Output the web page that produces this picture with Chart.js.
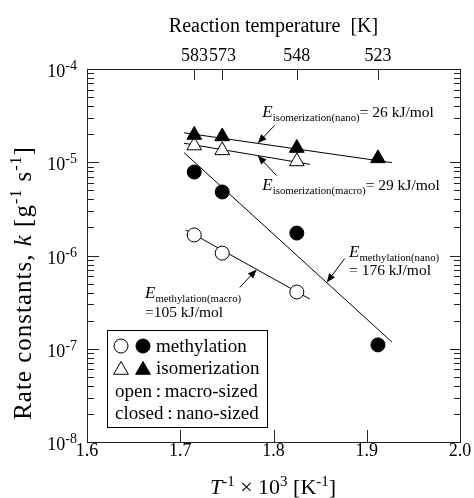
<!DOCTYPE html>
<html>
<head>
<meta charset="utf-8">
<script src="https://cdn.jsdelivr.net/npm/chart.js@4.4.0/dist/chart.umd.min.js"></script>
<style>
    html, body { margin: 0; padding: 0; background: #fff; }
</style>
</head>
<body>
<canvas id="arrhenius" width="474" height="498"></canvas>
<script>
// reaction temperatures [K] and their 1000/T values
const tempsK = [583, 573, 548, 523]
const invT = [1.715, 1.745, 1.825, 1.912]

// rate constants k [g-1 s-1]
const isoNano = [1.96e-5, 1.89e-5, 1.42e-5, 1.10e-5]
const isoMacro = [1.51e-5, 1.34e-5, 1.02e-5]
const methNano = [7.86e-6, 4.80e-6, 1.74e-6, 1.10e-7]
const methMacro = [1.66e-6, 1.06e-6, 4.06e-7]

// fitted lines, [x, k] at both ends
const isoNanoFit = [[1.704, 2.07e-5], [1.927, 9.9e-6]]
const isoMacroFit = [[1.704, 1.60e-5], [1.839, 9.5e-6]]
const methNanoFit = [[1.704, 1.27e-5], [1.927, 1.18e-7]]
const methMacroFit = [[1.706, 1.88e-6], [1.839, 3.41e-7]]

const xTicks = [1.6, 1.7, 1.8, 1.9, 2.0]
const yDecades = [-8, -7, -6, -5, -4]

const SERIF = "'Liberation Serif', 'Times New Roman', serif"

function pts(xs, ys) {
    return ys.map((y, i) => ({ x: xs[i], y: y }))
}
function fit(arr) {
    return arr.map(p => ({ x: p[0], y: p[1] }))
}

function markerSet(data, style, filled, r) {
    return {
        data: data,
        showLine: false,
        pointStyle: style,
        pointRadius: r,
        pointHoverRadius: r,
        pointBackgroundColor: filled ? "#000" : "#fff",
        pointBorderColor: "#000",
        pointBorderWidth: 1,
        order: 0
    }
}
function lineSet(data) {
    return {
        data: data,
        showLine: true,
        borderColor: "#000",
        borderWidth: 1,
        pointRadius: 0,
        fill: false,
        order: 1
    }
}

// text made of pieces: [text, size, style, dy]
function rich(ctx, parts, x, y, align) {
    let w = 0
    parts.forEach(p => {
        ctx.font = (p[2] || "") + " " + p[1] + "px " + SERIF
        w += ctx.measureText(p[0]).width
    })
    let cx = align == "center" ? x - w / 2 : (align == "right" ? x - w : x)
    ctx.textAlign = "left"
    ctx.textBaseline = "alphabetic"
    parts.forEach(p => {
        ctx.font = (p[2] || "") + " " + p[1] + "px " + SERIF
        ctx.fillText(p[0], cx, y + (p[3] || 0))
        cx += ctx.measureText(p[0]).width
    })
    return w
}

function marker(ctx, style, filled, x, y, r) {
    ctx.beginPath()
    if (style == "circle") {
        ctx.arc(x, y, r, 0, Math.PI * 2)
    } else {
        let a = 0
        ctx.moveTo(x + Math.sin(a) * r, y - Math.cos(a) * r)
        a += Math.PI * 2 / 3
        ctx.lineTo(x + Math.sin(a) * r, y - Math.cos(a) * r)
        a += Math.PI * 2 / 3
        ctx.lineTo(x + Math.sin(a) * r, y - Math.cos(a) * r)
        ctx.closePath()
    }
    ctx.fillStyle = filled ? "#000" : "#fff"
    ctx.fill()
    ctx.lineWidth = 1
    ctx.strokeStyle = "#000"
    ctx.stroke()
}

function arrow(ctx, x1, y1, x2, y2) {
    const ang = Math.atan2(y2 - y1, x2 - x1)
    const hl = 9, hw = 3.6
    ctx.beginPath()
    ctx.moveTo(x1, y1)
    ctx.lineTo(x2 - Math.cos(ang) * hl * 0.8, y2 - Math.sin(ang) * hl * 0.8)
    ctx.lineWidth = 1
    ctx.strokeStyle = "#000"
    ctx.stroke()
    ctx.beginPath()
    ctx.moveTo(x2, y2)
    ctx.lineTo(x2 - Math.cos(ang) * hl - Math.sin(ang) * hw, y2 - Math.sin(ang) * hl + Math.cos(ang) * hw)
    ctx.lineTo(x2 - Math.cos(ang) * hl + Math.sin(ang) * hw, y2 - Math.sin(ang) * hl - Math.cos(ang) * hw)
    ctx.closePath()
    ctx.fillStyle = "#000"
    ctx.fill()
}

// point on a fitted line at x (pixel space, log axis is linear there)
function onLine(chart, f, xv) {
    const sx = chart.scales.x, sy = chart.scales.y
    const x1 = sx.getPixelForValue(f[0][0]), y1 = sy.getPixelForValue(f[0][1])
    const x2 = sx.getPixelForValue(f[1][0]), y2 = sy.getPixelForValue(f[1][1])
    const px = sx.getPixelForValue(xv)
    return [px, y1 + (y2 - y1) * (px - x1) / (x2 - x1)]
}

const framePlugin = {
    id: "frame",
    beforeDatasetsDraw(chart) {
        const ctx = chart.ctx, a = chart.chartArea
        const sx = chart.scales.x, sy = chart.scales.y
        ctx.save()
        ctx.strokeStyle = "#222"
        ctx.lineWidth = 1
        ctx.strokeRect(a.left + 0.5, a.top + 0.5, a.right - a.left, a.bottom - a.top)
        ctx.beginPath()
        yDecades.forEach(d => {
            for (let m = 1; m <= 9; m++) {
                const v = m * Math.pow(10, d)
                if (d == -4 && m > 1) break
                const py = Math.round(sy.getPixelForValue(v)) + 0.5
                ctx.moveTo(a.left, py)
                ctx.lineTo(a.left + (m == 1 ? 12 : 7), py)
                ctx.moveTo(a.right, py)
                ctx.lineTo(a.right - (m == 1 ? 10 : 6), py)
            }
        })
        xTicks.slice(1, -1).forEach(v => {
            const px = Math.round(sx.getPixelForValue(v)) + 0.5
            ctx.moveTo(px, a.bottom)
            ctx.lineTo(px, a.bottom - 12)
        })
        tempsK.forEach(t => {
            const px = Math.round(sx.getPixelForValue(1000 / t)) + 0.5
            ctx.moveTo(px, a.top)
            ctx.lineTo(px, a.top + 11)
        })
        ctx.stroke()
        ctx.restore()
    },
    afterDraw(chart) {
        const ctx = chart.ctx, a = chart.chartArea
        const sx = chart.scales.x, sy = chart.scales.y
        ctx.save()
        ctx.fillStyle = "#000"

        // y tick labels 10^n
        yDecades.forEach(d => {
            const py = sy.getPixelForValue(Math.pow(10, d))
            ctx.font = "14px " + SERIF
            const sw = ctx.measureText(String(d)).width
            ctx.fillStyle = "#000"
            ctx.font = "18px " + SERIF
            ctx.textAlign = "right"
            ctx.textBaseline = "alphabetic"
            ctx.fillText("10", 77 - sw, py + 8)
            ctx.font = "14px " + SERIF
            ctx.textAlign = "left"
            ctx.fillText(String(d), 77 - sw, py + 1)
        })

        // axis titles
        ctx.fillStyle = "#000"
        rich(ctx, [["Reaction temperature  [K]", 20]], (a.left + a.right) / 2, 32, "center")
        rich(ctx, [["T", 22, "italic"], ["-1", 15, "", -8], [" \u00d7 10", 22], ["3", 15, "", -8],
                   [" [K", 22], ["-1", 15, "", -8], ["]", 22]], 273, 494, "center")
        ctx.save()
        ctx.translate(23, 283)
        ctx.rotate(-Math.PI / 2)
        ctx.letterSpacing = "1px"
        rich(ctx, [["Rate constants, ", 25], ["k", 25, "italic"], [" [g", 25], ["-1", 16, "", -10],
                   [" s", 25], ["-1", 16, "", -10], ["]", 25]], 0, 8, "center")
        ctx.letterSpacing = "0px"
        ctx.restore()

        // activation energy notes
        const E = (sub) => [["E", 17, "italic"], [sub, 10.8, "", 4]]
        let p = [sx.getPixelForValue(1.788), sy.getPixelForValue(3.06e-5)]
        rich(ctx, E("isomerization(nano)").concat([["= 26 kJ/mol", 15.5]]), p[0], p[1])
        p = [sx.getPixelForValue(1.788), sy.getPixelForValue(5.04e-6)]
        rich(ctx, E("isomerization(macro)").concat([["= 29 kJ/mol", 15.5]]), p[0], p[1])
        p = [sx.getPixelForValue(1.881), sy.getPixelForValue(9.63e-7)]
        rich(ctx, E("methylation(nano)"), p[0], p[1])
        rich(ctx, [["= 176 kJ/mol", 15.5]], p[0], sy.getPixelForValue(6.18e-7))
        p = [sx.getPixelForValue(1.6622), sy.getPixelForValue(3.5e-7)]
        rich(ctx, E("methylation(macro)"), p[0], p[1])
        rich(ctx, [["=105 kJ/mol", 15.5]], p[0], sy.getPixelForValue(2.19e-7))

        let h = onLine(chart, isoNanoFit, 1.783)
        arrow(ctx, h[0] + 17, h[1] - 18, h[0], h[1])
        h = onLine(chart, isoMacroFit, 1.783)
        arrow(ctx, h[0] + 19, h[1] + 20, h[0], h[1])
        h = onLine(chart, methNanoFit, 1.857)
        arrow(ctx, h[0] + 18, h[1] - 24, h[0], h[1])
        h = onLine(chart, methMacroFit, 1.782)
        arrow(ctx, h[0] - 17, h[1] + 18, h[0], h[1])

        // legend box
        const bx = a.left + 20, by = a.bottom - 112, bw = 160, bh = 97
        ctx.fillStyle = "#fff"
        ctx.fillRect(bx, by, bw, bh)
        ctx.strokeStyle = "#000"
        ctx.lineWidth = 1
        ctx.strokeRect(bx + 0.5, by + 0.5, bw, bh)
        marker(ctx, "circle", false, bx + 14, by + 16, 7)
        marker(ctx, "circle", true, bx + 36, by + 16, 7)
        marker(ctx, "triangle", false, bx + 14, by + 40, 8.5)
        marker(ctx, "triangle", true, bx + 36, by + 40, 8.5)
        ctx.fillStyle = "#000"
        rich(ctx, [["methylation", 19]], bx + 49, by + 22)
        rich(ctx, [["isomerization", 19]], bx + 49, by + 44)
        rich(ctx, [["open\u2009:\u2009macro-sized", 19]], bx + 8, by + 67)
        rich(ctx, [["closed\u2009:\u2009nano-sized", 19]], bx + 8, by + 89)
        ctx.restore()
    }
}

new Chart(document.getElementById("arrhenius"), {
    type: "scatter",
    data: {
        datasets: [
            markerSet(pts(invT, isoNano), "triangle", true, 8.5),
            markerSet(pts(invT, isoMacro), "triangle", false, 8.5),
            markerSet(pts(invT, methNano), "circle", true, 7),
            markerSet(pts(invT, methMacro), "circle", false, 7),
            lineSet(fit(isoNanoFit)),
            lineSet(fit(isoMacroFit)),
            lineSet(fit(methNanoFit)),
            lineSet(fit(methMacroFit))
        ]
    },
    options: {
        responsive: false,
        animation: false,
        devicePixelRatio: 1,
        layout: { padding: { left: 0, right: 14, top: 0, bottom: 0 } },
        plugins: { legend: { display: false }, tooltip: { enabled: false } },
        scales: {
            x: {
                type: "linear",
                position: "bottom",
                min: 1.6,
                max: 2.0,
                afterBuildTicks: (s) => { s.ticks = xTicks.map(v => ({ value: v })) },
                afterFit: (s) => { s.height = 56 },
                grid: { display: false, drawTicks: false },
                border: { display: false },
                ticks: {
                    autoSkip: false,
                    maxRotation: 0,
                    padding: -2,
                    color: "#000",
                    font: { family: SERIF, size: 18 },
                    callback: (v) => Number(v).toFixed(1)
                }
            },
            x2: {
                type: "linear",
                position: "top",
                min: 1.6,
                max: 2.0,
                afterBuildTicks: (s) => { s.ticks = tempsK.map(t => ({ value: 1000 / t })) },
                afterFit: (s) => { s.height = 69 },
                grid: { display: false, drawTicks: false },
                border: { display: false },
                ticks: {
                    autoSkip: false,
                    maxRotation: 0,
                    padding: 2,
                    color: "#000",
                    font: { family: SERIF, size: 18 },
                    callback: (v) => String(Math.round(1000 / v))
                }
            },
            y: {
                type: "logarithmic",
                position: "left",
                min: 1e-8,
                max: 1e-4,
                afterFit: (s) => { s.width = 87 },
                grid: { display: false, drawTicks: false },
                border: { display: false },
                ticks: { display: false }
            }
        }
    },
    plugins: [framePlugin]
})
</script>
</body>
</html>
